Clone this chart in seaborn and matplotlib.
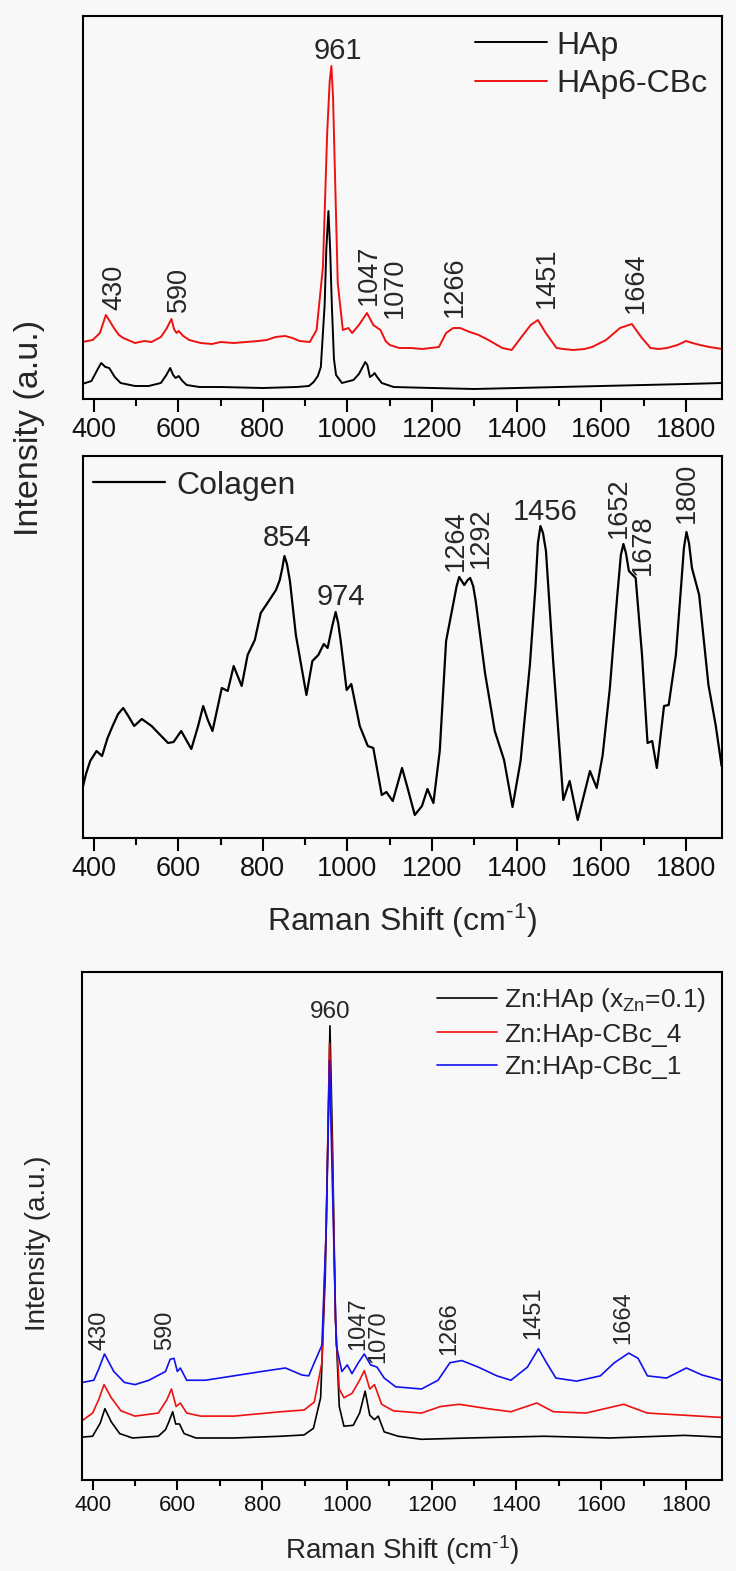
import numpy as np
import pandas as pd
import matplotlib
matplotlib.use("Agg")
import matplotlib.pyplot as plt
from matplotlib.lines import Line2D
from matplotlib.ticker import MultipleLocator
import seaborn as sns

# ---------------- data ----------------
# Panel 1: HAp and HAp6-CBc
hap_shift = [373, 395, 410, 418, 428, 437, 450, 464, 498, 530, 559, 572, 581, 588, 594, 601,
             610, 620, 650, 700, 800, 880, 909, 920, 930, 937, 946, 950, 955, 959, 963, 968,
             973, 987, 1014, 1027, 1037, 1042, 1047, 1053, 1060, 1064, 1070, 1081, 1109, 1200,
             1300, 1400, 1500, 1600, 1700, 1800, 1886]
hap_int = [15, 18, 30, 36, 32, 31, 22, 16, 13, 13, 16, 24, 31, 24, 21, 23,
           18, 14, 12, 12, 11, 12, 13, 17, 23, 32, 94, 150, 188, 150, 94, 40,
           24, 16, 19, 25, 33, 37, 34, 22, 24, 26, 22, 16, 12, 11,
           10, 11, 12, 13, 14, 15, 16]

hap6_shift = [373, 398, 415, 429, 438, 448, 460, 470, 498, 520, 537, 559, 572, 584, 590, 596,
              601, 612, 626, 653, 680, 700, 731, 760, 790, 809, 830, 853, 870, 887, 911, 927,
              942, 952, 958, 962, 966, 970, 977, 989, 1002, 1011, 1027, 1046, 1061, 1078, 1090,
              1100, 1122, 1150, 1177, 1216, 1233, 1250, 1266, 1289, 1310, 1333, 1366, 1388,
              1411, 1433, 1450, 1467, 1494, 1510, 1533, 1560, 1578, 1611, 1644, 1672, 1694,
              1716, 1735, 1755, 1780, 1800, 1815, 1833, 1855, 1886]
hap6_int = [57, 59, 66, 84, 78, 71, 64, 61, 56, 58, 57, 62, 70, 80, 70, 66,
            68, 63, 59, 56, 55, 57, 56, 57, 58, 59, 62, 63, 61, 58, 57, 69,
            132, 266, 318, 333, 300, 232, 116, 69, 71, 66, 74, 86, 74, 69, 58,
            54, 51, 51, 50, 52, 66, 71, 71, 67, 64, 59, 51, 49,
            62, 74, 79, 67, 51, 50, 49, 50, 52, 59, 71, 75, 62,
            51, 50, 51, 54, 58, 56, 54, 52, 50]

# Panel 2: Colagen
col_shift = [373, 382, 392, 407, 420, 433, 446, 458, 470, 482, 496, 514, 537, 553, 576, 589,
             607, 631, 647, 659, 670, 681, 703, 717, 731, 750, 764, 781, 795, 814, 831, 840,
             846, 851, 857, 864, 878, 903, 917, 931, 944, 953, 964, 972, 978, 984, 998, 1009,
             1029, 1048, 1061, 1081, 1092, 1107, 1129, 1142, 1159, 1176, 1189, 1203, 1218,
             1233, 1248, 1258, 1264, 1276, 1284, 1290, 1297, 1303, 1325, 1348, 1370, 1390,
             1409, 1431, 1444, 1450, 1456, 1462, 1469, 1486, 1510, 1525, 1544, 1573, 1589,
             1603, 1620, 1637, 1646, 1652, 1658, 1665, 1681, 1696, 1709, 1720, 1731, 1748,
             1759, 1776, 1788, 1795, 1801, 1807, 1814, 1831, 1853, 1870, 1884]
col_int = [48, 64, 77, 87, 82, 100, 113, 124, 130, 122, 112, 119, 112, 105, 95, 96,
           107, 89, 112, 132, 118, 107, 150, 147, 172, 152, 183, 198, 225, 237, 248, 258,
           270, 282, 274, 257, 203, 143, 177, 183, 194, 190, 212, 226, 215, 197, 148, 154,
           112, 92, 90, 43, 46, 37, 70, 50, 23, 32, 49, 35, 87,
           197, 230, 252, 261, 253, 258, 260, 252, 237, 165, 107, 78, 31,
           77, 173, 250, 295, 312, 305, 287, 177, 38, 57, 18, 67, 50,
           83, 150, 240, 283, 294, 285, 267, 260, 183, 95, 97, 70, 132,
           133, 183, 250, 290, 306, 295, 270, 243, 153, 113, 72]

# Panel 3: Zn:HAp series
zn_shift = [376, 400, 418, 429, 444, 464, 494, 555, 572, 580, 589, 596, 605, 616, 644, 733,
            844, 899, 921, 938, 949, 955, 960, 966, 973, 982, 993, 1015, 1030, 1043, 1054,
            1065, 1074, 1088, 1121, 1176, 1287, 1465, 1620, 1797, 1884]
zn_int = [98, 100, 130, 163, 133, 106, 96, 100, 115, 133, 156, 128, 128, 106, 96, 96,
          100, 103, 118, 188, 468, 768, 1038, 768, 368, 168, 123, 125, 153, 203, 148,
          138, 146, 110, 100, 93, 96, 100, 96, 102, 98]

cbc4_shift = [376, 400, 415, 427, 444, 467, 500, 555, 575, 586, 597, 607, 622, 655, 733, 844,
              899, 923, 941, 951, 959, 966, 973, 982, 993, 1012, 1030, 1041, 1054, 1065, 1082,
              1110, 1176, 1221, 1265, 1332, 1387, 1448, 1487, 1564, 1653, 1709, 1797, 1884]
cbc4_int = [136, 153, 185, 218, 188, 158, 146, 153, 183, 208, 168, 176, 153, 146, 146, 156,
            160, 178, 268, 568, 998, 718, 368, 208, 188, 198, 228, 250, 208, 218, 173,
            158, 153, 168, 173, 163, 156, 176, 156, 153, 173, 153, 148, 143]

cbc1_shift = [376, 403, 415, 428, 450, 475, 500, 533, 572, 583, 592, 600, 607, 622, 666, 733,
              799, 855, 894, 910, 923, 941, 951, 959, 966, 975, 988, 1001, 1012, 1027, 1041,
              1056, 1071, 1088, 1115, 1176, 1215, 1243, 1271, 1310, 1354, 1387, 1426, 1452,
              1471, 1493, 1542, 1598, 1631, 1665, 1687, 1709, 1754, 1801, 1838, 1884]
cbc1_int = [223, 228, 255, 288, 248, 223, 218, 228, 248, 276, 278, 248, 256, 228, 228, 238,
            248, 256, 240, 238, 268, 308, 568, 958, 668, 308, 248, 263, 243, 268, 288,
            263, 258, 233, 213, 208, 228, 268, 273, 258, 238, 228, 258, 300,
            268, 233, 226, 238, 268, 290, 278, 238, 233, 256, 240, 228]

# peak labels: (text, x, y, rotated)
p1_labels = [("961", 978, 348, False), ("430", 448, 89, True), ("590", 601, 87, True),
             ("1047", 1050, 94, True), ("1070", 1112, 81, True), ("1266", 1253, 82, True),
             ("1451", 1470, 91, True), ("1664", 1681, 86, True)]
p2_labels = [("854", 857, 300, False), ("974", 984, 241, False), ("1264", 1255, 267, True),
             ("1292", 1315, 270, True), ("1456", 1467, 326, False), ("1652", 1642, 300, True),
             ("1678", 1698, 263, True), ("1800", 1803, 315, True)]
p3_labels = [("960", 961, 1070, False), ("430", 417, 296, True), ("590", 572, 296, True),
             ("1047", 1027, 296, True), ("1070", 1074, 268, True), ("1266", 1241, 286, True),
             ("1451", 1440, 323, True), ("1664", 1653, 310, True)]

tick_values = [400, 600, 800, 1000, 1200, 1400, 1600, 1800]

# ---------------- style ----------------
sns.set_theme(style="ticks")
BG = "#f8f8f8"
plt.rcParams["font.family"] = ["Liberation Sans", "DejaVu Sans"]
plt.rcParams["mathtext.fontset"] = "custom"
plt.rcParams["mathtext.rm"] = "Liberation Sans"
plt.rcParams["mathtext.it"] = "Liberation Sans"
plt.rcParams["axes.linewidth"] = 1.5

fig = plt.figure(figsize=(7.36, 15.71), dpi=100, facecolor=BG)
W, H = 736.0, 1571.0


def add_ax(left, top, right, bottom):
    return fig.add_axes([left / W, 1 - bottom / H, (right - left) / W, (bottom - top) / H])


ax1 = add_ax(83, 16, 722, 399)
ax2 = add_ax(83, 456, 722, 838)
ax3 = add_ax(82, 972, 722, 1480)


def style_ax(ax, ylim, tick_fs, major_len, minor_len, pad):
    ax.set_facecolor(BG)
    ax.set_xlim(375, 1885)
    ax.set_ylim(*ylim)
    ax.set_yticks([])
    ax.set_xticks(tick_values)
    ax.set_xticklabels([str(v) for v in tick_values])
    ax.xaxis.set_minor_locator(MultipleLocator(100))
    ax.tick_params(axis="x", which="major", direction="out", length=major_len, width=1.5,
                   labelsize=tick_fs, pad=pad, color="black", labelcolor="#111111")
    ax.tick_params(axis="x", which="minor", direction="out", length=minor_len, width=1.5,
                   color="black")
    for s in ax.spines.values():
        s.set_visible(True)
        s.set_color("black")
        s.set_linewidth(1.5)
    ax.set_xlabel("")
    ax.set_ylabel("")


def draw(ax, shift, inten, color, lw):
    df = pd.DataFrame({"shift": shift, "intensity": inten})
    sns.lineplot(data=df, x="shift", y="intensity", ax=ax, color=color, linewidth=lw,
                 sort=False, estimator=None, legend=False)


def put_labels(ax, labels, fs_h, fs_v):
    for t, x, y, rot in labels:
        if rot:
            ax.text(x, y, t, rotation=90, ha="center", va="bottom", fontsize=fs_v)
        else:
            ax.text(x, y, t, ha="center", va="center", fontsize=fs_h)


RED = "#ee1111"
BLUE = "#1111ee"
XLAB = "Raman Shift (cm$^{\\mathregular{\\text{-}1}}$)"

# Panel 1
draw(ax1, hap_shift, hap_int, "black", 1.4)
draw(ax1, hap6_shift, hap6_int, RED, 1.4)
style_ax(ax1, (0, 383), 19.5, 9.4, 5, 3.5)
put_labels(ax1, p1_labels, 21, 19.5)
h1 = [Line2D([], [], color="black", lw=1.4), Line2D([], [], color=RED, lw=1.4)]
ax1.legend(h1, ["HAp", "HAp6-CBc"], loc="upper left", bbox_to_anchor=(0.613, 0.962),
           frameon=False, fontsize=23, handlelength=2.25, handletextpad=0.3,
           labelspacing=0.28, borderpad=0, borderaxespad=0)

# Panel 2
draw(ax2, col_shift, col_int, "black", 1.6)
style_ax(ax2, (0, 382), 19.5, 9.4, 5, 3.5)
put_labels(ax2, p2_labels, 21, 19.5)
h2 = [Line2D([], [], color="black", lw=1.6)]
ax2.legend(h2, ["Colagen"], loc="upper left", bbox_to_anchor=(0.016, 0.962),
           frameon=False, fontsize=23, handlelength=2.25, handletextpad=0.35,
           borderpad=0, borderaxespad=0)

fig.text(30 / W, 1 - 428 / H, "Intensity (a.u.)", rotation=90, ha="center", va="center",
         fontsize=24.5)
fig.text(402 / W, 1 - 921 / H, XLAB, ha="center", va="center", fontsize=23)

# Panel 3
draw(ax3, zn_shift, zn_int, "black", 1.2)
draw(ax3, cbc4_shift, cbc4_int, RED, 1.2)
draw(ax3, cbc1_shift, cbc1_int, BLUE, 1.2)
style_ax(ax3, (0, 1161), 16, 7, 4, 4)
put_labels(ax3, p3_labels, 17.5, 17)
h3 = [Line2D([], [], color="black", lw=1.2), Line2D([], [], color=RED, lw=1.2),
      Line2D([], [], color=BLUE, lw=1.2)]
ax3.legend(h3, ["Zn:HAp (x$_{\\mathregular{Zn}}$=0.1)", "Zn:HAp-CBc_4", "Zn:HAp-CBc_1"],
           loc="upper left", bbox_to_anchor=(0.555, 0.972), frameon=False, fontsize=19,
           handlelength=2.25, handletextpad=0.3, labelspacing=0.32, borderpad=0,
           borderaxespad=0)

fig.text(38 / W, 1 - 1243 / H, "Intensity (a.u.)", rotation=90, ha="center", va="center",
         fontsize=20)
fig.text(402 / W, 1 - 1550 / H, XLAB, ha="center", va="center", fontsize=20)

fig.savefig("out.png", dpi=100, facecolor=BG)
